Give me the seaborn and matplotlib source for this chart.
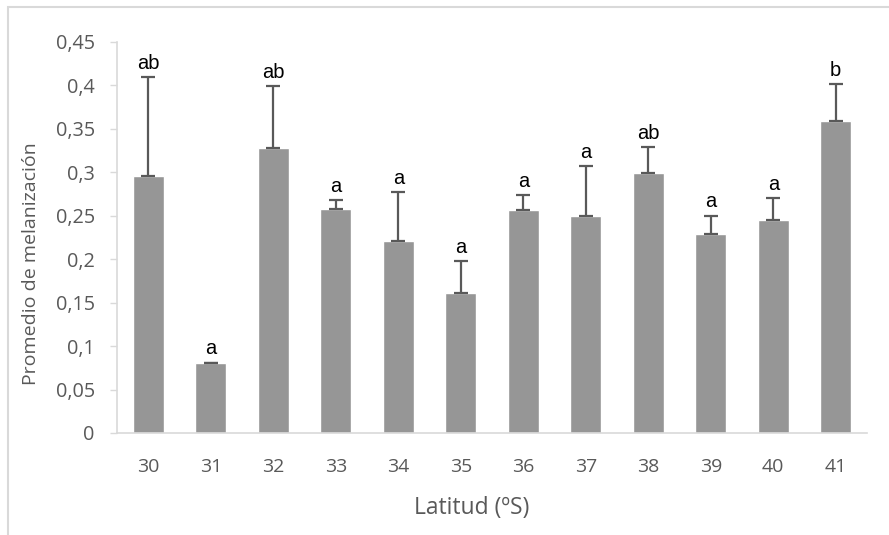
import pandas as pd
import seaborn as sns
import matplotlib.pyplot as plt
from matplotlib.patches import Rectangle
from matplotlib.ticker import FuncFormatter

# Values
latitud = ["30", "31", "32", "33", "34", "35", "36", "37", "38", "39", "40", "41"]
promedio = [0.295, 0.080, 0.328, 0.258, 0.221, 0.161, 0.256, 0.249, 0.299, 0.229, 0.245, 0.359]
error_sup = [0.114, 0.001, 0.071, 0.010, 0.056, 0.037, 0.018, 0.058, 0.030, 0.021, 0.025, 0.042]
letras = ["ab", "a", "ab", "a", "a", "a", "a", "a", "ab", "a", "a", "b"]

data = pd.DataFrame({"Latitud": latitud, "Promedio": promedio})

sns.set_theme(style="white")
plt.rcParams["font.family"] = ["Open Sans", "DejaVu Sans"]

fig = plt.figure(figsize=(8.89, 5.35), dpi=100)
ax = fig.add_axes([0.1316, 0.1907, 0.8437, 0.7313])

sns.barplot(data=data, x="Latitud", y="Promedio", color="#969696", saturation=1,
            width=0.49, errorbar=None, ax=ax)

# Upper error bars only
xs = range(len(latitud))
ax.errorbar(xs, promedio, yerr=[[0] * len(promedio), error_sup], fmt="none",
            ecolor="#595959", elinewidth=1.6, capsize=5, capthick=1.6)

# Significance letters
for x, y, e, t in zip(xs, promedio, error_sup, letras):
    ax.annotate(t, (x, y + e), xytext=(0, 3), textcoords="offset points",
                ha="center", va="bottom", fontsize=14.5, color="black",
                family="Liberation Sans")

ax.set_ylim(0, 0.45)
ax.set_yticks([i * 0.05 for i in range(10)])
ax.yaxis.set_major_formatter(FuncFormatter(
    lambda v, p: "0" if abs(v) < 1e-9 else f"{v:.2f}".rstrip("0").replace(".", ",")))
ax.set_xlim(-0.5, len(latitud) - 0.5)

for s in ["top", "right"]:
    ax.spines[s].set_visible(False)
for s in ["left", "bottom"]:
    ax.spines[s].set_color("#d9d9d9")
    ax.spines[s].set_linewidth(1.2)

ax.tick_params(axis="y", left=True, length=5, width=1, color="#d9d9d9",
               labelsize=14.3, labelcolor="#595959", pad=11)
ax.tick_params(axis="x", bottom=False, labelsize=14, labelcolor="#595959", pad=12)

ax.set_xlabel("Latitud (ºS)", fontsize=16.5, color="#595959")
ax.set_ylabel("Promedio de melanización", fontsize=14, color="#595959")
# Excel centres the axis titles on the chart area, not the plot area
ax.xaxis.set_label_coords(0.473, -0.162)
ax.yaxis.set_label_coords(-0.103, 0.434)

# Chart-area border (extends past right/bottom edges as in the reference)
fig.patches.append(Rectangle((8 / 889, -0.05), 1.2, 1 - 7 / 535 + 0.05,
                             transform=fig.transFigure, fill=False,
                             edgecolor="#d9d9d9", linewidth=1.5))

fig.savefig("out.png", dpi=100)
